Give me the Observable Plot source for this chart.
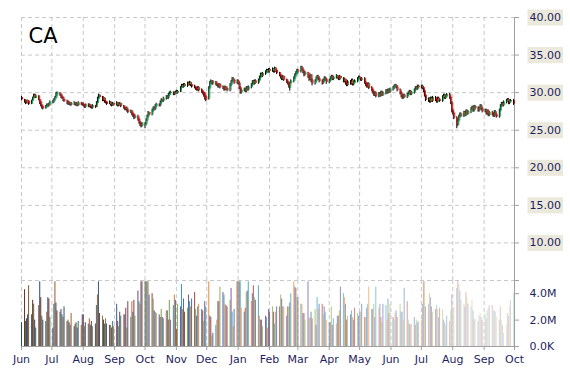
<!DOCTYPE html>
<html><head><meta charset="utf-8">
<script src="https://cdn.jsdelivr.net/npm/d3@7"></script>
<script src="https://cdn.jsdelivr.net/npm/@observablehq/plot@0.6"></script>
<style>
body{margin:0;background:#fff;}
#chart{position:relative;width:570px;height:370px;font-family:"DejaVu Sans",sans-serif;}
#chart svg{position:absolute;left:0;top:0;}
</style></head><body><div id="chart"></div>
<script>
const ticker = "CA";
const startDate = "2012-06-01", endDate = "2013-09-30";
const axisStart = "2012-06-01", axisEnd = "2013-10-01";
const priceTicks = [5, 10, 15, 20, 25, 30, 35, 40];
const volumeTicks = [0, 2e6, 4e6];
const volumePalette = ["#4F81BD", "#C0504D", "#9BBB59", "#8064A2", "#4BACC6", "#F79646"];

const open = [
29.3,29.0,28.9,28.6,28.9,28.8,28.5,28.9,29.3,29.7,29.3,29.5,29.0,28.7,28.3,28.1,27.9,28.1,28.4,28.2,28.4,
28.7,28.8,29.1,29.3,29.7,29.9,29.7,29.4,29.3,29.0,28.9,28.6,28.5,28.6,28.4,28.5,28.6,28.4,28.5,28.3,28.6,28.5,
28.4,28.3,28.1,28.4,28.2,28.3,28.1,28.0,28.2,28.1,28.6,29.2,29.6,29.4,29.0,29.2,28.8,28.7,28.5,28.7,28.4,28.3,28.5,
28.4,28.6,28.3,28.4,28.5,28.2,28.0,27.8,27.9,27.6,27.4,27.5,27.1,27.0,26.6,26.8,26.4,26.0,25.8,25.6,
25.6,25.8,26.3,26.8,27.3,27.1,27.6,27.9,27.8,28.2,28.4,28.3,28.7,29.0,28.9,29.2,29.4,29.3,29.7,29.9,30.0,29.8,29.9,
30.0,30.1,30.1,30.6,30.9,30.8,31.0,30.9,31.2,31.1,31.3,31.0,30.8,30.7,30.5,30.4,30.6,30.3,30.1,29.9,29.8,29.4,
29.2,30.6,31.3,31.5,31.2,31.4,31.1,31.0,30.8,31.0,30.7,30.6,30.4,30.7,30.5,30.3,31.0,31.4,31.8,31.6,31.3,
31.5,31.2,30.6,30.0,30.3,30.4,30.2,30.6,30.4,30.7,31.0,31.4,31.2,31.5,31.3,31.6,32.0,32.4,32.2,32.5,32.7,32.9,32.8,
33.0,32.9,33.1,32.8,33.2,32.9,32.6,32.3,32.0,31.8,32.1,31.7,31.4,31.2,30.6,31.3,31.5,31.9,32.3,32.6,
32.9,32.8,33.3,33.0,32.7,32.4,32.6,32.1,31.8,32.3,31.6,31.2,31.5,31.9,32.1,31.8,31.5,31.3,31.6,31.9,31.7,
31.4,31.6,31.9,32.1,31.8,32.0,32.2,32.0,31.8,32.1,31.9,31.5,31.7,31.2,31.0,31.4,31.2,31.6,31.1,31.3,31.5,31.8,
32.0,31.9,31.7,31.8,31.3,31.0,30.8,31.1,30.6,30.3,30.0,29.7,29.9,29.5,29.8,29.6,30.0,29.7,29.9,30.2,30.0,30.3,30.1,
30.4,30.6,30.8,30.9,30.7,30.3,29.9,29.5,29.3,29.6,29.4,29.7,29.9,30.1,29.8,30.0,30.3,30.6,30.5,30.8,
30.7,30.8,30.6,30.2,29.6,29.0,29.1,28.8,29.2,28.9,29.3,29.0,28.8,29.2,29.0,28.9,29.4,29.6,29.3,29.5,29.7,29.3,28.6,
27.6,27.2,26.6,25.7,26.3,26.8,27.1,26.9,27.3,27.0,27.5,27.2,27.4,27.8,28.0,27.6,28.1,27.9,27.6,27.9,28.2,27.8,
27.5,27.6,27.2,27.5,27.0,27.3,27.1,26.9,27.4,27.0,26.8,27.6,28.2,28.5,28.3,28.7,28.9,29.0,28.6,28.8,28.9
];
const high = [
29.5,29.1,29.0,29.0,29.0,28.9,29.0,29.4,29.8,29.8,29.7,29.6,29.1,28.8,28.4,28.2,28.3,28.5,28.5,28.6,28.9,
29.0,29.2,29.5,30.0,30.1,30.0,29.8,29.6,29.4,29.1,29.0,28.8,28.8,28.7,28.7,28.8,28.7,28.7,28.6,28.8,28.7,28.6,
28.6,28.4,28.5,28.5,28.5,28.4,28.2,28.4,28.3,28.8,29.4,29.8,29.7,29.5,29.4,29.3,29.0,28.8,28.9,28.8,28.6,28.7,28.6,
28.8,28.7,28.6,28.7,28.6,28.3,28.1,28.0,28.1,27.8,27.7,27.6,27.3,27.2,27.0,27.0,26.6,26.2,26.0,26.0,
26.0,26.5,27.0,27.5,27.4,27.8,28.1,28.1,28.4,28.6,28.5,28.9,29.2,29.1,29.4,29.6,29.6,29.9,30.1,30.2,30.1,30.1,30.2,
30.3,30.3,30.8,31.1,31.1,31.2,31.2,31.4,31.4,31.5,31.4,31.1,31.0,30.8,30.7,30.8,30.8,30.5,30.3,30.1,30.0,29.6,
30.8,31.5,31.7,31.6,31.6,31.5,31.3,31.1,31.2,31.2,30.9,30.8,30.9,30.8,30.6,31.2,31.6,32.0,32.0,31.7,31.7,
31.7,31.4,30.8,30.5,30.6,30.6,30.8,30.8,30.9,31.2,31.6,31.6,31.7,31.7,31.8,32.2,32.6,32.6,32.7,32.9,33.1,33.1,33.2,
33.2,33.3,33.2,33.4,33.3,33.0,32.7,32.4,32.2,32.3,32.2,31.8,31.6,31.3,31.4,31.7,32.1,32.5,32.8,33.1,
33.1,33.5,33.5,33.2,32.9,32.8,32.7,32.3,32.5,32.4,31.8,31.7,32.1,32.3,32.3,32.0,31.7,31.8,32.1,32.1,31.9,
31.8,32.1,32.3,32.3,32.2,32.4,32.3,32.1,32.3,32.2,32.0,31.9,31.8,31.4,31.6,31.6,31.8,31.8,31.5,31.7,32.0,32.2,
32.2,32.0,32.0,32.0,31.5,31.2,31.3,31.3,30.8,30.5,30.2,30.1,30.1,30.0,30.0,30.2,30.2,30.1,30.4,30.4,30.5,30.5,30.6,
30.8,31.0,31.1,31.1,30.9,30.5,30.1,29.7,29.8,29.8,29.9,30.1,30.3,30.3,30.2,30.5,30.8,30.8,31.0,31.0,
31.0,31.0,30.8,30.4,29.8,29.3,29.3,29.4,29.4,29.5,29.5,29.2,29.4,29.4,29.2,29.6,29.8,29.8,29.7,29.9,29.9,29.5,28.8,
27.8,27.4,26.8,26.5,27.0,27.3,27.3,27.5,27.5,27.7,27.7,27.6,28.0,28.2,28.2,28.3,28.3,28.1,28.1,28.4,28.4,28.0,
27.8,27.8,27.7,27.7,27.5,27.5,27.3,27.6,27.6,27.2,27.8,28.4,28.7,28.7,28.9,29.1,29.2,29.2,29.0,29.1,29.1
];
const low = [
28.9,28.6,28.4,28.5,28.5,28.3,28.4,28.8,29.2,29.2,29.2,28.9,28.4,28.1,27.8,27.7,27.8,28.0,28.0,28.1,28.3,
28.5,28.6,28.9,29.2,29.5,29.5,29.2,29.1,28.8,28.7,28.4,28.3,28.3,28.2,28.2,28.3,28.2,28.2,28.1,28.2,28.3,28.2,
28.1,27.9,27.9,28.0,28.0,27.9,27.8,27.8,27.9,28.0,28.4,29.0,29.2,28.8,28.8,28.6,28.5,28.3,28.4,28.2,28.1,28.2,28.2,
28.2,28.1,28.1,28.2,28.0,27.8,27.6,27.6,27.4,27.2,27.2,26.9,26.7,26.4,26.5,26.2,25.8,25.5,25.3,25.4,
25.2,25.6,26.1,26.6,26.9,26.9,27.4,27.6,27.6,28.0,28.1,28.1,28.5,28.7,28.7,29.0,29.1,29.1,29.5,29.7,29.6,29.6,29.7,
29.8,29.8,30.0,30.4,30.6,30.6,30.7,30.7,30.9,30.9,30.8,30.6,30.5,30.3,30.2,30.2,30.1,29.9,29.7,29.4,29.0,28.8,
29.0,30.4,31.1,31.0,31.0,30.9,30.8,30.6,30.6,30.5,30.4,30.2,30.2,30.3,30.1,30.1,30.8,31.2,31.4,31.1,31.1,
31.0,30.4,29.8,29.8,30.1,30.0,30.0,30.2,30.2,30.5,30.8,31.0,31.0,31.1,31.1,31.4,31.8,32.0,32.0,32.3,32.5,32.6,32.6,
32.6,32.7,32.6,32.6,32.7,32.4,32.1,31.8,31.6,31.6,31.5,31.2,31.0,30.6,30.2,31.1,31.3,31.7,32.1,32.4,
32.5,32.6,32.8,32.5,32.1,32.2,31.9,31.5,31.6,31.3,30.9,31.0,31.3,31.7,31.6,31.3,31.0,31.1,31.4,31.5,31.1,
31.2,31.4,31.7,31.6,31.6,31.8,31.8,31.6,31.6,31.7,31.3,31.3,31.0,30.8,30.8,31.0,31.0,30.9,30.9,31.1,31.3,31.6,
31.7,31.5,31.5,31.1,30.8,30.6,30.6,30.4,30.1,29.8,29.5,29.5,29.3,29.3,29.4,29.4,29.5,29.5,29.7,29.8,29.8,29.9,29.9,
30.2,30.4,30.6,30.5,30.1,29.7,29.3,29.1,29.1,29.2,29.2,29.5,29.7,29.6,29.6,29.8,30.1,30.3,30.3,30.5,
30.5,30.4,30.0,29.4,28.8,28.7,28.6,28.6,28.7,28.7,28.8,28.6,28.6,28.8,28.7,28.7,29.2,29.1,29.1,29.3,29.1,28.4,27.3,
27.0,26.4,25.2,25.5,26.1,26.6,26.7,26.7,26.8,26.8,27.0,27.0,27.2,27.6,27.4,27.4,27.7,27.4,27.4,27.7,27.6,27.3,
27.3,27.0,27.0,26.8,26.8,26.9,26.7,26.7,26.8,26.6,26.6,27.4,28.0,28.1,28.1,28.5,28.7,28.4,28.4,28.6,28.3
];
const close = [
29.1,28.8,28.6,28.9,28.7,28.5,28.9,29.3,29.6,29.4,29.5,29.0,28.6,28.3,28.0,27.9,28.1,28.3,28.2,28.5,28.7,
28.8,29.0,29.3,29.8,29.9,29.7,29.4,29.3,29.0,28.9,28.6,28.5,28.6,28.4,28.5,28.6,28.4,28.5,28.3,28.6,28.5,28.4,
28.3,28.1,28.4,28.2,28.3,28.1,28.0,28.2,28.1,28.6,29.2,29.6,29.4,29.0,29.2,28.8,28.7,28.5,28.7,28.4,28.3,28.5,28.4,
28.6,28.3,28.4,28.5,28.2,28.0,27.8,27.9,27.6,27.4,27.5,27.1,27.0,26.6,26.8,26.4,26.0,25.8,25.6,25.9,
25.8,26.3,26.8,27.3,27.1,27.6,27.9,27.8,28.2,28.4,28.3,28.7,29.0,28.9,29.2,29.4,29.3,29.7,29.9,30.0,29.8,29.9,30.0,
30.1,30.0,30.6,30.9,30.8,31.0,30.9,31.2,31.1,31.3,31.0,30.8,30.7,30.5,30.4,30.6,30.3,30.1,29.9,29.6,29.2,29.0,
30.6,31.3,31.5,31.2,31.4,31.1,31.0,30.8,31.0,30.7,30.6,30.4,30.7,30.5,30.3,31.0,31.4,31.8,31.6,31.3,31.5,
31.2,30.6,30.0,30.3,30.4,30.2,30.6,30.4,30.7,31.0,31.4,31.2,31.5,31.3,31.6,32.0,32.4,32.2,32.5,32.7,32.9,32.8,33.0,
32.9,33.1,32.8,33.2,32.9,32.6,32.3,32.0,31.8,32.1,31.7,31.4,31.2,30.8,31.3,31.5,31.9,32.3,32.6,32.9,
32.8,33.3,33.0,32.7,32.4,32.6,32.1,31.8,32.3,31.6,31.2,31.5,31.9,32.1,31.8,31.5,31.3,31.6,31.9,31.7,31.4,
31.6,31.9,32.1,31.8,32.0,32.2,32.0,31.8,32.1,31.9,31.5,31.7,31.2,31.0,31.4,31.2,31.6,31.1,31.3,31.5,31.8,32.0,
31.9,31.7,31.8,31.3,31.0,30.8,31.1,30.6,30.3,30.0,29.7,29.9,29.5,29.8,29.6,30.0,29.7,29.9,30.2,30.0,30.3,30.1,30.4,
30.6,30.8,30.9,30.7,30.3,29.9,29.5,29.3,29.6,29.4,29.7,29.9,30.1,29.8,30.0,30.3,30.6,30.5,30.8,30.7,
30.8,30.6,30.2,29.6,29.0,29.1,28.8,29.2,28.9,29.3,29.0,28.8,29.2,29.0,28.9,29.4,29.6,29.3,29.5,29.7,29.3,28.6,27.6,
27.2,26.6,25.7,26.3,26.8,27.1,26.9,27.3,27.0,27.5,27.2,27.4,27.8,28.0,27.6,28.1,27.9,27.6,27.9,28.2,27.8,27.5,
27.6,27.2,27.5,27.0,27.3,27.1,26.9,27.4,27.0,26.8,27.6,28.2,28.5,28.3,28.7,28.9,29.0,28.6,28.8,28.9,28.5
];
// volume in millions of shares
const volume = [
1.8,4.3,1.9,2.1,2.4,4.6,2.4,3.5,3.2,2.0,1.4,3.1,4.9,3.7,2.3,2.0,1.9,2.6,3.7,3.6,2.2,
1.4,3.2,4.9,3.3,2.7,2.6,2.8,2.4,2.2,3.0,1.9,2.0,1.8,1.6,2.5,1.5,1.7,1.8,1.4,1.9,1.6,2.4,
2.4,1.5,1.8,1.7,2.1,1.6,1.9,1.5,1.7,3.1,3.9,4.9,2.5,2.3,2.0,1.7,2.1,1.7,1.6,1.6,1.4,1.9,1.5,
3.2,1.9,1.5,2.6,2.3,2.4,2.4,2.9,1.4,3.4,2.2,3.4,2.6,3.5,2.3,4.2,3.4,3.2,4.9,4.9,
4.9,4.9,4.9,4.9,3.9,4.0,3.6,2.7,2.6,2.5,2.4,2.2,2.8,2.2,2.1,2.7,2.7,2.0,3.5,2.0,3.1,3.9,3.5,
1.3,3.2,3.0,4.7,2.8,3.6,2.6,2.9,3.9,3.4,3.0,3.6,4.1,2.8,2.3,3.0,3.2,2.8,2.7,1.9,3.4,3.0,
4.9,2.3,2.2,0.8,1.0,1.6,2.0,3.4,3.4,4.5,4.1,3.9,3.2,3.1,3.0,3.5,4.4,2.6,1.5,2.8,4.9,
4.9,4.9,4.9,2.9,2.6,2.9,4.1,4.2,4.9,3.4,4.0,4.6,3.7,3.5,4.6,2.3,2.0,2.0,1.5,2.3,2.2,1.4,2.8,
2.6,3.0,2.6,1.7,2.6,3.0,3.0,3.9,3.6,3.0,3.0,2.3,3.0,3.0,3.3,4.0,4.9,4.5,4.4,3.7,
3.7,3.2,3.2,2.5,2.5,2.0,4.9,2.1,2.2,2.6,2.1,2.8,1.6,3.7,2.8,3.2,3.2,2.4,3.0,2.6,2.0,
1.8,1.8,3.0,1.6,2.1,1.7,2.3,2.3,2.7,4.5,4.0,3.7,3.2,2.0,2.3,2.4,2.7,2.2,2.0,2.9,2.5,2.3,
2.6,2.6,3.2,2.2,2.2,2.9,3.2,4.5,2.8,2.8,3.2,2.2,4.5,2.9,3.2,2.2,1.8,3.2,3.1,2.0,3.6,2.5,3.2,
2.2,2.0,2.5,2.7,2.2,3.2,2.6,2.6,2.0,4.4,3.4,2.0,1.7,1.6,1.7,2.2,1.6,2.0,1.8,1.9,
2.0,3.2,4.9,4.9,3.0,3.2,4.0,3.7,3.0,2.6,2.8,3.1,2.8,2.2,2.9,2.8,2.0,1.8,1.6,2.3,1.9,2.7,3.9,
2.9,3.0,4.4,4.9,4.7,4.2,3.5,3.2,3.0,4.1,3.7,3.2,3.0,3.5,2.7,2.0,2.1,1.9,2.3,2.5,2.2,2.0,
2.5,2.1,2.7,2.9,3.1,3.1,2.7,2.7,2.6,2.2,2.0,3.0,2.0,1.6,1.0,1.6,2.5,2.3,3.0,3.5,4.0
];

const chart = document.getElementById("chart");
const dates = d3.utcDay.range(new Date(startDate), d3.utcDay.offset(new Date(endDate), 1))
  .filter(d => d.getUTCDay() % 6 !== 0);
const lens = [open.length, high.length, low.length, close.length, volume.length];
if (lens.some(l => l !== dates.length)) throw new Error("length mismatch " + dates.length + " " + lens.join(","));
const n = dates.length;
const data = dates.map((date, i) => ({date, i, open: open[i], high: high[i], low: low[i], close: close[i], volume: volume[i] * 1e6}));
const months = d3.utcMonth.range(new Date(axisStart), d3.utcDay.offset(new Date(axisEnd), 1));
const gridMonths = months.slice(0, -1);

const FONT = "DejaVu Sans, sans-serif";
const TEXT = "#1f1f5f";
const AXIS = "#a0a0a0";
const GRID = "#c8c8c8";
const xScale = {type: "utc", domain: [new Date(axisStart), new Date(axisEnd)], axis: null};
const common = {width: 570, height: 370, marginLeft: 21, marginRight: 56, x: xScale,
  style: {fontFamily: FONT, fontSize: "11px", color: TEXT, background: "transparent", overflow: "visible"}};

function barColor(d) {
  const t = d.i / (n - 1);
  const c = volumePalette[d.i % volumePalette.length];
  if (t < 0.45) return d3.interpolateRgb(c, "#000")((0.45 - t) / 0.45 * 0.45);
  return d3.interpolateRgb(c, "#fff")((t - 0.45) / 0.55 * 0.72);
}

const pricePlot = Plot.plot({
  ...common, marginTop: 17, marginBottom: 90,
  y: {domain: [5, 40], axis: null, label: null},
  marks: [
    Plot.ruleY(priceTicks, {stroke: GRID, strokeDasharray: "4,3"}),
    Plot.ruleX(gridMonths, {stroke: GRID, strokeDasharray: "4,3"}),
    Plot.ruleX([new Date(axisEnd)], {stroke: AXIS}),
    Plot.axisY(priceTicks, {anchor: "right", label: null, tickSize: 4, tickPadding: 11, stroke: AXIS, fill: TEXT,
      tickFormat: d => d === 5 ? "" : d.toFixed(2)}),
    Plot.ruleX(data, {x: "date", y1: "low", y2: "high", stroke: "#000", strokeWidth: 1}),
    Plot.ruleX(data, {x: "date", y1: d => Math.min(d.open, d.close) - 0.06, y2: d => Math.max(d.open, d.close) + 0.06,
      dx: 1, strokeWidth: 1, stroke: d => d.close >= d.open ? "#00b050" : "#ff0000"}),
    Plot.text([ticker], {frameAnchor: "top-left", dx: 7, dy: 11, fontSize: 21, fill: "#000", fontFamily: FONT})
  ]
});

const volumePlot = Plot.plot({
  ...common, marginTop: 280, marginBottom: 24,
  y: {domain: [0, 5e6], axis: null, label: null},
  marks: [
    Plot.ruleX(gridMonths, {stroke: GRID, strokeDasharray: "4,3"}),
    Plot.rectY(data, {x1: "date", x2: d => d3.utcHour.offset(d.date, 24), y: "volume", fill: barColor, clip: true}),
    Plot.ruleX([new Date(axisEnd)], {stroke: AXIS}),
    Plot.ruleY([0], {stroke: AXIS}),
    Plot.axisY(volumeTicks, {anchor: "right", label: null, tickSize: 4, tickPadding: 11, stroke: AXIS, fill: TEXT,
      tickFormat: d => d === 0 ? "0.0K" : (d / 1e6).toFixed(1) + "M"}),
    Plot.axisX(months, {anchor: "bottom", label: null, tickSize: 4, tickPadding: 5, stroke: AXIS, fill: TEXT,
      tickFormat: d3.utcFormat("%b")})
  ]
});

chart.appendChild(volumePlot);
chart.appendChild(pricePlot);

// beige label boxes behind the price tick labels
pricePlot.querySelectorAll('g[aria-label="y-axis tick label"] text').forEach(t => {
  if (!t.textContent) return;
  const b = t.getBBox();
  const r = document.createElementNS("http://www.w3.org/2000/svg", "rect");
  r.setAttribute("x", b.x - 2);
  r.setAttribute("y", b.y - 1.5);
  r.setAttribute("width", b.width + 4);
  r.setAttribute("height", b.height + 3);
  r.setAttribute("fill", "#ebe8dc");
  if (t.getAttribute("transform")) r.setAttribute("transform", t.getAttribute("transform"));
  t.parentNode.insertBefore(r, t);
});
</script></body></html>
